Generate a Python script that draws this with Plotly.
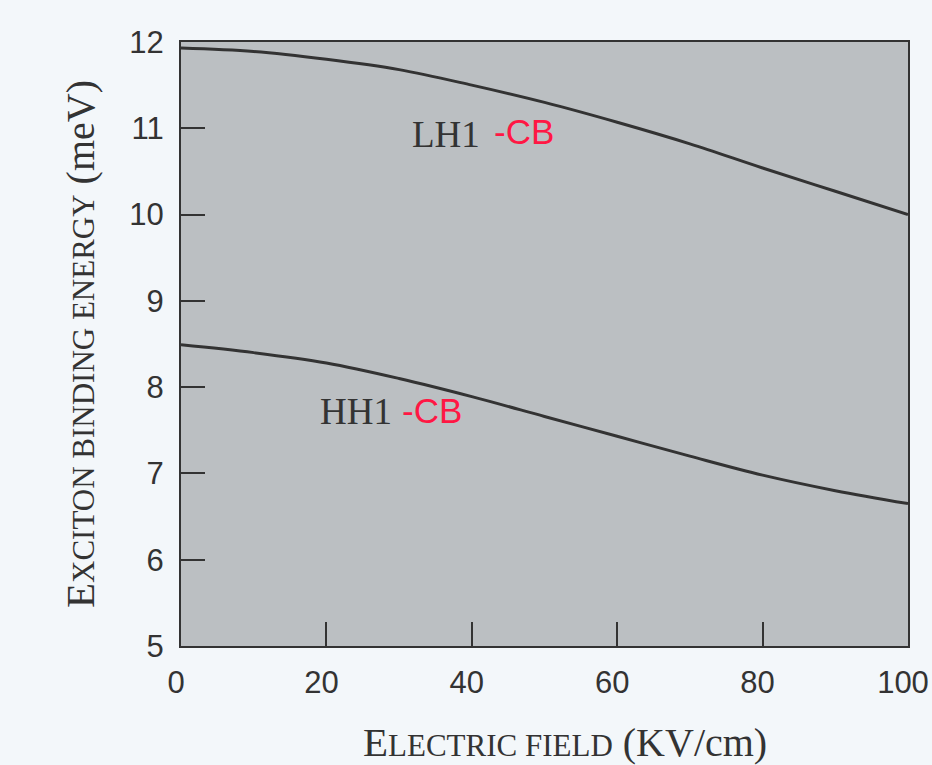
import plotly.graph_objects as go

# Data
field = [0, 10, 20, 30, 40, 50, 60, 70, 80, 90, 100]
lh1_cb = [11.93, 11.89, 11.80, 11.68, 11.50, 11.30, 11.07, 10.82, 10.54, 10.27, 10.00]
hh1_cb = [8.49, 8.40, 8.28, 8.10, 7.89, 7.66, 7.43, 7.20, 6.98, 6.80, 6.65]
x_ticks = [0, 20, 40, 60, 80, 100]
y_ticks = [5, 6, 7, 8, 9, 10, 11, 12]

INK = "#333333"
SERIF = "Liberation Serif, Times New Roman, serif"
SANS = "Liberation Sans, Arial, sans-serif"
PAGE = "#f3f7fa"

fig = go.Figure()
for vals in (lh1_cb, hh1_cb):
    fig.add_trace(go.Scatter(x=field, y=vals, mode="lines",
                             line=dict(color=INK, width=3, shape="spline"),
                             showlegend=False, hoverinfo="skip"))

def sc(big, small):
    return f"<span style='font-size:41px'>{big}</span><span style='font-size:31px'>{small}</span>"

y_title = sc("E", "XCITON BINDING ENERGY") + " (meV)"
x_title = sc("E", "LECTRIC FIELD") + " (KV/cm)"

axis_common = dict(showgrid=False, zeroline=False, showline=True, mirror=True,
                   linecolor=INK, linewidth=2, ticks="inside", ticklen=24,
                   tickwidth=1.5, tickcolor=INK, ticklabeloverflow="allow",
                   automargin=False,
                   tickfont=dict(family=SANS, size=31, color=INK))

fig.update_xaxes(range=[-0.0001, 100.0001], tickvals=x_ticks,
                 ticklabelstandoff=8, ticklabelshift=-5, **axis_common)
fig.update_yaxes(range=[4.9999, 12.0001], tickvals=y_ticks, ticklabelstandoff=9,
                 title=dict(text=y_title, font=dict(family=SERIF, size=40, color=INK), standoff=22),
                 **axis_common)

annos = [
    dict(x=36.45, y=10.93, text="LH1", font=dict(family=SERIF, size=37, color=INK), xanchor="center"),
    dict(x=42.8, y=10.96, text="-CB", font=dict(family=SANS, size=35, color="#ff1744"), xanchor="left"),
    dict(x=24.07, y=7.72, text="HH1", font=dict(family=SERIF, size=37, color=INK), xanchor="center"),
    dict(x=30.1, y=7.73, text="-CB", font=dict(family=SANS, size=35, color="#ff1744"), xanchor="left"),
]
for a in annos:
    fig.add_annotation(xref="x", yref="y", showarrow=False, yanchor="middle", **a)

fig.add_annotation(xref="paper", yref="paper", x=(565 - 181) / 727, y=-(742 - 646) / 604,
                   text=x_title, showarrow=False, xanchor="center", yanchor="middle",
                   font=dict(family=SERIF, size=40, color=INK))

fig.update_layout(width=932, height=765,
                  margin=dict(l=181, r=24, t=42, b=119),
                  paper_bgcolor=PAGE, plot_bgcolor="#bbbfc2")

fig.write_html("out.html", config={"displayModeBar": False},
               post_script="document.body.style.margin='0';document.body.style.overflow='hidden';"
                           f"document.body.style.background='{PAGE}';")
